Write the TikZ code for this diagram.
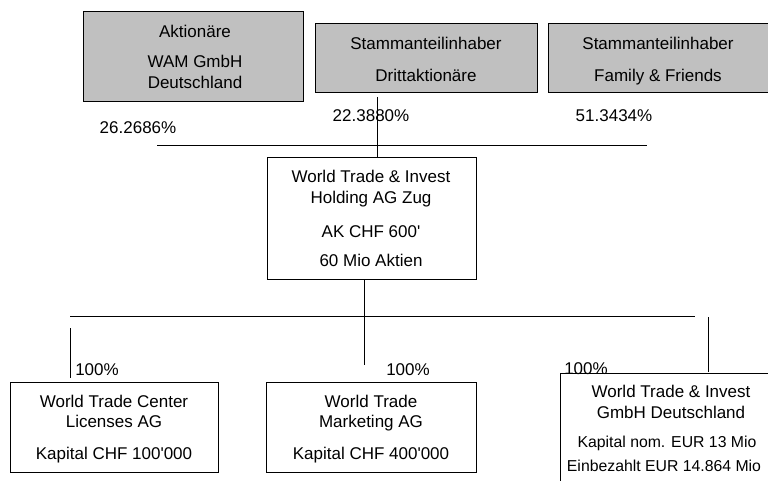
\documentclass[tikz,border=0pt]{standalone}
\usepackage{fontspec}
\setmainfont{Liberation Sans}[Ligatures=TeXOff]
\definecolor{boxgray}{RGB}{192,192,192}
\tikzset{
  gbox/.style={draw=black, fill=boxgray, line width=1pt, inner sep=0pt},
  wbox/.style={draw=black, fill=white, line width=1pt, inner sep=0pt},
  txt/.style={anchor=base, inner sep=0pt, font=\fontsize{17}{20}\selectfont},
  stxt/.style={anchor=base, inner sep=0pt, font=\fontsize{15.8}{18}\selectfont},
  conn/.style={draw=black, line width=1pt},
}
\begin{document}
\begin{tikzpicture}[x=1pt,y=-1pt]
\useasboundingbox (0,0) rectangle (768,481);
\clip (0,0) rectangle (768,481);
% top shareholder boxes
\node[gbox, minimum width=220pt, minimum height=90pt] (aktion) at (193,57) {};
\node[gbox, minimum width=222pt, minimum height=69pt] (dritt) at (426,58.5) {};
\node[gbox, minimum width=222pt, minimum height=69pt] (family) at (659,58.5) {};
\node[txt] (t1a) at (195,38) {Aktionäre};
\node[txt] (t1b) at (195,68) {WAM GmbH};
\node[txt] (t1c) at (195,89) {Deutschland};
\node[txt] (t2a) at (426,50) {Stammanteilinhaber};
\node[txt] (t2b) at (426,82) {Drittaktionäre};
\node[txt] (t3a) at (658,50) {Stammanteilinhaber};
\node[txt] (t3b) at (658,82) {Family \& Friends};
% percentages
\node[txt] (p1) at (138,134) {26.2686\%};
\node[txt] (p2) at (371,122) {22.3880\%};
\node[txt] (p3) at (614,122) {51.3434\%};
% holding
\node[wbox, minimum width=209pt, minimum height=121pt] (hold) at (371.5,218.5) {};
\node[txt] (h1) at (371,183) {World Trade \& Invest};
\node[txt] (h2) at (371,204) {Holding AG Zug};
\node[txt] (h3) at (371,237) {AK CHF 600'};
\node[txt] (h4) at (371,266) {60 Mio Aktien};
% top connectors
\coordinate (topL) at (157,146);
\coordinate (topR) at (647,146);
\draw[conn] (topL) -- (topR);
\coordinate (dv) at (377,97);
\draw[conn] (dv) -- (dv |- hold.north);
% bottom connectors
\coordinate (hv) at (364,279);
\coordinate (hvEnd) at (364,365);
\draw[conn] (hv) -- (hvEnd);
\coordinate (botL) at (70,316);
\coordinate (botR) at (695,316);
\draw[conn] (botL) -- (botR);
\coordinate (lvTop) at (70,328);
\coordinate (lvEnd) at (70,378);
\draw[conn] (lvTop) -- (lvEnd);
\coordinate (rvTop) at (708,317);
\coordinate (rvEnd) at (708,372);
\draw[conn] (rvTop) -- (rvEnd);
% subsidiaries
\node[wbox, minimum width=208pt, minimum height=90pt] (wtc) at (114,427) {};
\node[txt] (a1) at (114,407) {World Trade Center};
\node[txt] (a2) at (114,427) {Licenses AG};
\node[txt] (a3) at (114,459) {Kapital CHF 100'000};
\node[wbox, minimum width=210pt, minimum height=90pt] (wtm) at (371,427) {};
\node[txt] (b1) at (371,407) {World Trade};
\node[txt] (b2) at (371,427) {Marketing AG};
\node[txt] (b3) at (371,459) {Kapital CHF 400'000};
\node[wbox, minimum width=230pt, minimum height=127pt] (wti) at (675,436.5) {};
\node[txt] (c1) at (671,397) {World Trade \& Invest};
\node[txt] (c2) at (671,418) {GmbH Deutschland};
\node[stxt] (c3) at (667,447) {Kapital nom. EUR 13 Mio};
\node[stxt] (c4) at (664,471) {Einbezahlt EUR 14.864 Mio};
% 100% labels
\node[txt] (q1) at (97,375) {100\%};
\node[txt] (q2) at (408,375) {100\%};
\node[txt] (q3) at (586,374) {100\%};
\end{tikzpicture}
\end{document}
